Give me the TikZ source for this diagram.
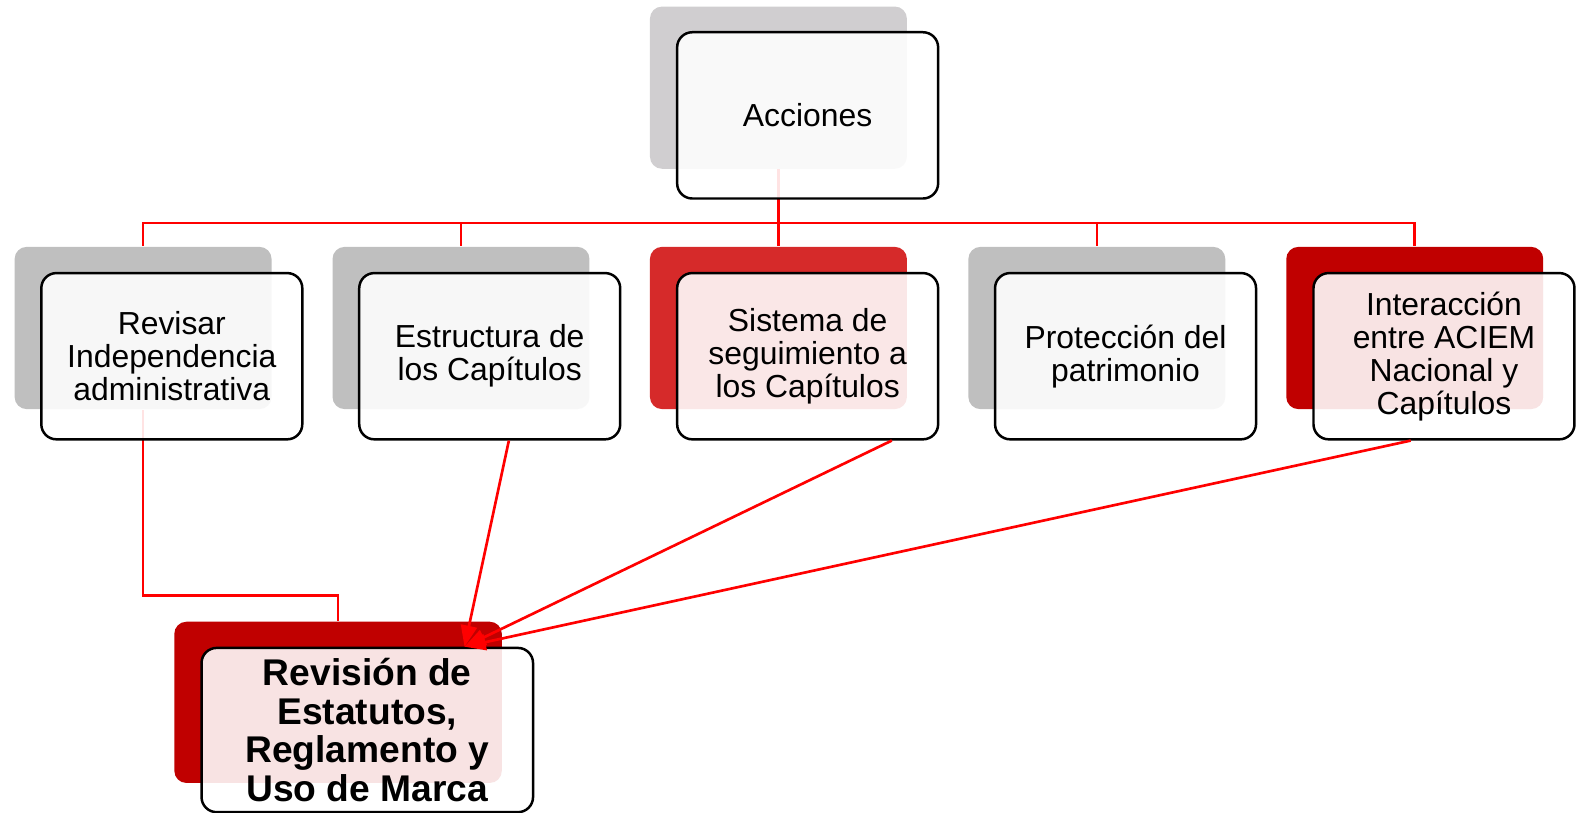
\documentclass[tikz,border=0pt]{standalone}
\usepackage{fontspec}
\setmainfont{Liberation Sans}
\usetikzlibrary{arrows.meta, calc}
\definecolor{grisclaro}{RGB}{208,206,208}
\definecolor{gris}{RGB}{191,191,191}
\definecolor{rojomedio}{RGB}{214,42,42}
\definecolor{rojo}{RGB}{192,0,0}
\tikzset{
  fondo/.style={rounded corners=0.12cm, minimum width=2.55cm, minimum height=1.61cm, inner sep=0pt},
  caja/.style={draw, line width=0.7pt, rounded corners=0.15cm, fill=white, fill opacity=0.89, text opacity=1,
    minimum width=2.59cm, minimum height=1.65cm, inner sep=0pt, align=center, font=\fontsize{9}{9.3}\selectfont},
  linea/.style={draw=red, line width=0.75pt},
  flecha/.style={linea, -{Triangle[length=0.21cm, width=0.16cm]}}
}

\begin{document}
\begin{tikzpicture}
            \useasboundingbox (0,0) rectangle (15.68,-8.06);
            % fondos
            \node [fondo, fill=grisclaro] (accB) at (7.725,-0.87) {};
            \node [fondo, fill=gris] (revB) at (1.42,-3.255) {};
            \node [fondo, fill=gris] (estB) at (4.575,-3.255) {};
            \node [fondo, fill=rojomedio] (sisB) at (7.725,-3.255) {};
            \node [fondo, fill=gris] (proB) at (10.885,-3.255) {};
            \node [fondo, fill=rojo] (intB) at (14.04,-3.255) {};
            \node [fondo, fill=rojo, minimum width=3.25cm, minimum height=1.60cm] (estaB) at (3.355,-6.97) {};
            % lineas del arbol
            \draw [linea] (accB.south) -- ++(0,-0.53) -| (revB.north);
            \draw [linea] (accB.south) -- ++(0,-0.53) -| (estB.north);
            \draw [linea] (accB.south) -- (sisB.north);
            \draw [linea] (accB.south) -- ++(0,-0.53) -| (proB.north);
            \draw [linea] (accB.south) -- ++(0,-0.53) -| (intB.north);
            \draw [linea] (revB.south) -- ++(0,-1.84) -| (estaB.north);
            % cajas
            \node [caja] (accF) at (8.015,-1.145) {Acciones};
            \node [caja] (revF) at (1.705,-3.535) {Revisar\\Independencia\\administrativa};
            \node [caja] (estF) at (4.86,-3.535) {Estructura de\\los Capítulos};
            \node [caja] (sisF) at (8.015,-3.535) {Sistema de\\seguimiento a\\los Capítulos};
            \node [caja] (proF) at (11.17,-3.535) {Protección del\\patrimonio};
            \node [caja] (intF) at (14.33,-3.535) {Interacción\\entre ACIEM\\Nacional y\\Capítulos};
            \node [caja, minimum width=3.29cm, minimum height=1.63cm, font=\fontsize{10.5}{11}\selectfont\bfseries] (estaF) at (3.645,-7.245) {Revisión de\\Estatutos,\\Reglamento y\\Uso de Marca};
            % flechas
            \coordinate (llegada) at ($(estaF.north)+(0.965,0)$);
            \draw [flecha] ($(estF.south)+(0.19,0)$) -- (llegada);
            \draw [flecha] ($(sisF.south)+(0.835,0)$) -- (llegada);
            \draw [flecha] ($(intF.south)+(-0.33,0)$) -- (llegada);
        \end{tikzpicture}
\end{document}
